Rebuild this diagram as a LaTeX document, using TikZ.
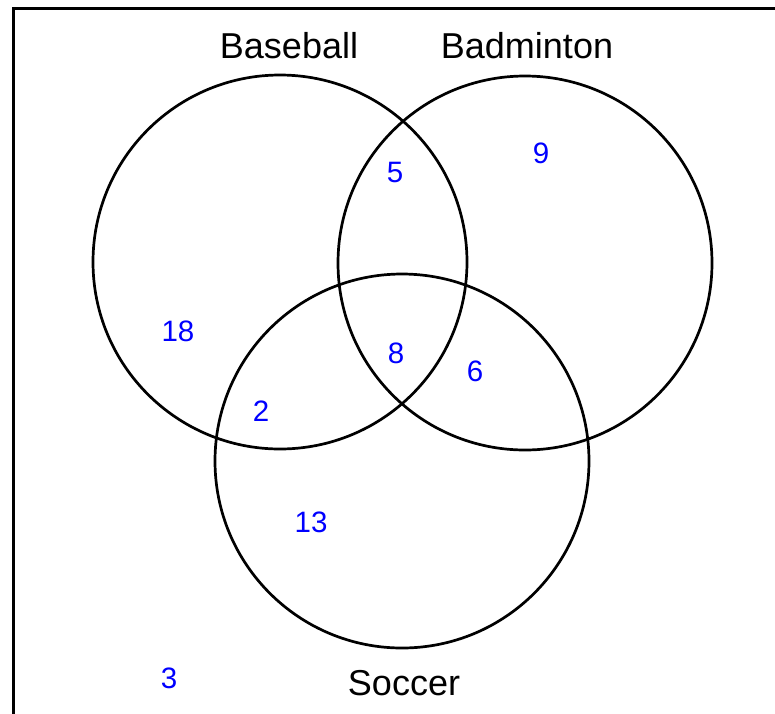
\documentclass[tikz,border=0pt]{standalone}
\usepackage{fontspec}
\setmainfont{Liberation Sans}
\definecolor{countblue}{HTML}{0000FF}
\tikzset{
  setring/.style={circle,draw=black,line width=2.7pt,minimum size=374pt,inner sep=0pt},
  setname/.style={font=\fontsize{36}{40}\selectfont,text=black},
  count/.style={font=\fontsize{29.5}{34}\selectfont,text=countblue}
}

\begin{document}
\begin{tikzpicture}[x=1pt,y=-1pt]
\useasboundingbox (0,0) rectangle (775,713);
\clip (0,0) rectangle (775,713);
\draw[line width=3pt] (13,8.5) rectangle (800,740);
% the three sets
\node[setring] (baseball) at (280,262) {};
\node[setring] (badminton) at (525,263) {};
\node[setring] (soccer) at (402,461) {};
\node[setname] (lbase) at (289,46) {Baseball};
\node[setname] (lbad) at (527,46) {Badminton};
\node[setname] (lsoc) at (404,683) {Soccer};
% counts
\node[count] (nbase) at (178,331) {18};
\node[count] (nbad) at (541,153) {9};
\node[count] (nsoc) at (311,522) {13};
\node[count] (nbb) at (395,172) {5};
\node[count] (nbs) at (261,411) {2};
\node[count] (nds) at (475,371) {6};
\node[count] (nall) at (396,353) {8};
\node[count] (nnone) at (169,678) {3};
\end{tikzpicture}
\end{document}
